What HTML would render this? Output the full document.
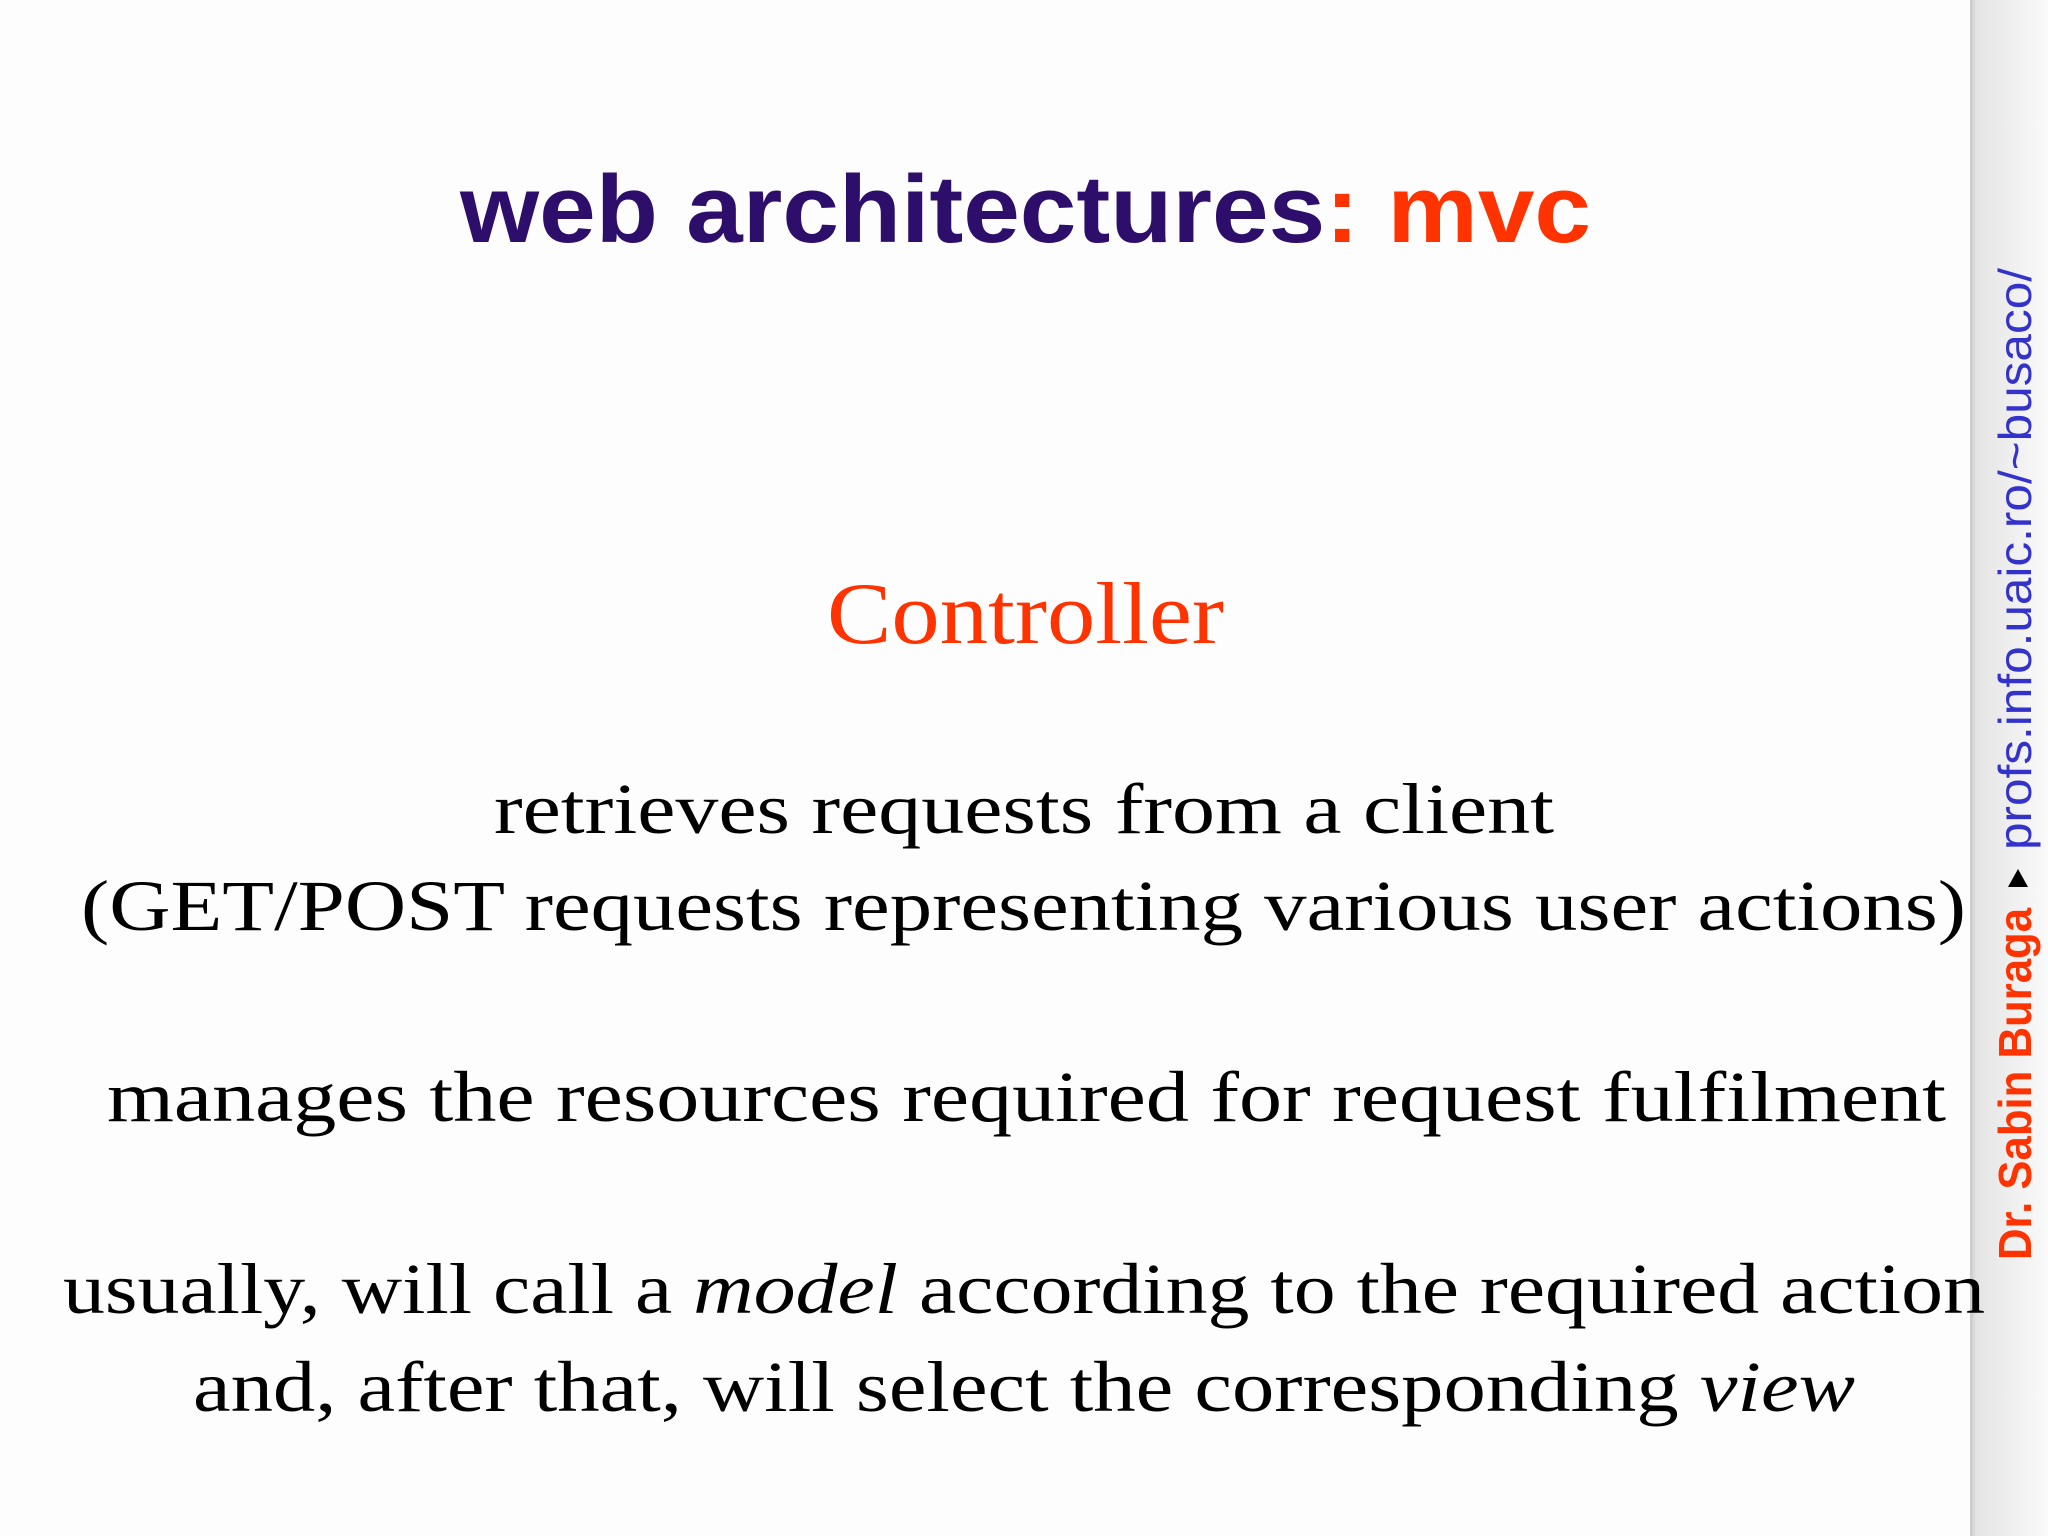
<!DOCTYPE html>
<html><head><meta charset="utf-8"><style>
html,body{margin:0;padding:0;background:#fff;}
svg{display:block}
</style></head><body>
<svg width="2048" height="1536" viewBox="0 0 2048 1536" xmlns="http://www.w3.org/2000/svg">
<defs>
<linearGradient id="g" x1="0" x2="1" y1="0" y2="0">
<stop offset="0" stop-color="#c8c8c8"/>
<stop offset="0.08" stop-color="#e4e4e4"/>
<stop offset="1" stop-color="#fafafa"/>
</linearGradient>
</defs>
<rect width="2048" height="1536" fill="#fdfdfd"/>
<rect x="1970" y="0" width="78" height="1536" fill="url(#g)"/>
<text x="460" y="242" font-family="Liberation Sans, sans-serif" font-weight="bold" font-size="96" textLength="1131" lengthAdjust="spacingAndGlyphs"><tspan fill="#2d0f6b">web architectures</tspan><tspan fill="#ff3300">: mvc</tspan></text>
<text x="827" y="643" font-family="Liberation Serif, serif" font-size="88" fill="#ff3300" textLength="397" lengthAdjust="spacingAndGlyphs">Controller</text>
<g font-family="Liberation Serif, serif" font-size="72" fill="#000">
<text x="494" y="833" textLength="1060" lengthAdjust="spacingAndGlyphs">retrieves requests from a client</text>
<text x="81" y="930" textLength="1885" lengthAdjust="spacingAndGlyphs">(GET/POST requests representing various user actions)</text>
<text x="107" y="1121" textLength="1839" lengthAdjust="spacingAndGlyphs">manages the resources required for request fulfilment</text>
<text x="63" y="1313" textLength="1922" lengthAdjust="spacingAndGlyphs">usually, will call a <tspan font-style="italic">model</tspan> according to the required action</text>
<text x="193" y="1411" textLength="1662" lengthAdjust="spacingAndGlyphs">and, after that, will select the corresponding <tspan font-style="italic">view</tspan></text>
</g>
<g transform="translate(2031,1260) rotate(-90)" font-family="Liberation Sans, sans-serif" font-size="46">
<text x="0" y="0" fill="#ff3300" font-weight="bold" textLength="352" lengthAdjust="spacingAndGlyphs">Dr. Sabin Buraga</text>
<polygon points="372,-4 392,-4 382,-22" fill="#000" transform="rotate(90 382 -13)"/>
<text x="410" y="0" fill="#3333cc" textLength="582" lengthAdjust="spacingAndGlyphs">profs.info.uaic.ro/~busaco/</text>
</g>
</svg>
</body></html>
